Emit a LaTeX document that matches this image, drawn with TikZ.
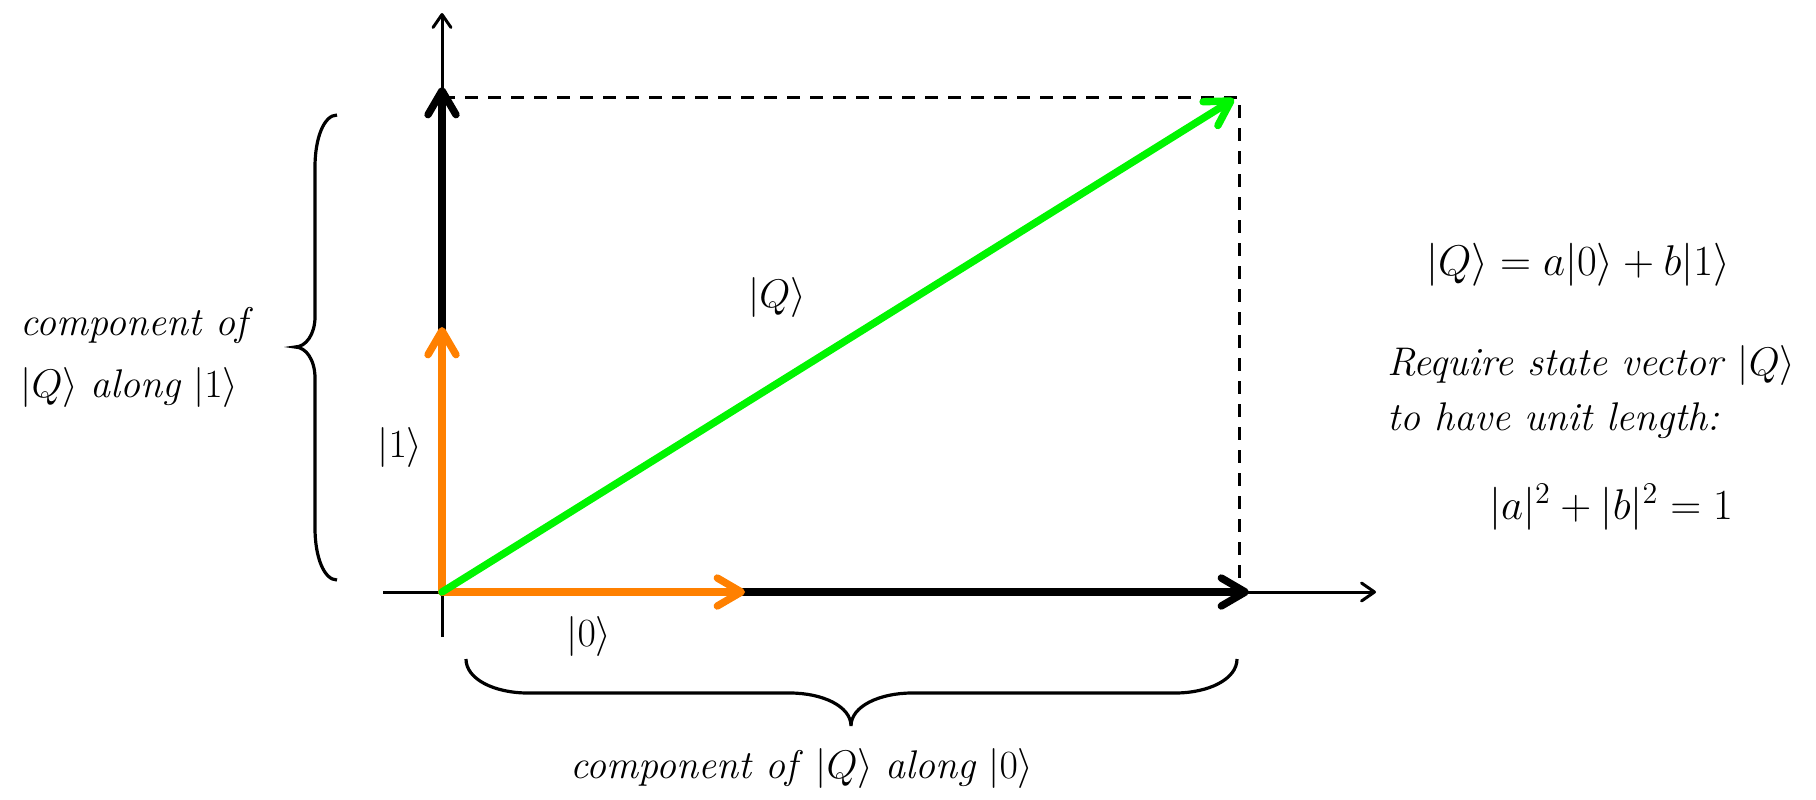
\RequirePackage{fix-cm}
\documentclass[tikz,border=0pt]{standalone}
\usetikzlibrary{arrows.meta}
\definecolor{vecgreen}{RGB}{0,245,0}
\definecolor{vecorange}{RGB}{255,128,0}
\begin{document}
\begin{tikzpicture}[x=0.5pt,y=-0.5pt,
  axisline/.style={line width=1.5pt,-{Straight Barb[length=6.5pt,width=9pt,round]}},
  vecline/.style={line width=3.7pt,line cap=round,-{Straight Barb[length=12pt,width=14pt,round]}},
  guide/.style={line width=1.5pt,dash pattern=on 6.5pt off 5pt},
  bracestroke/.style={line width=1.6pt},
  lbl/.style={inner sep=0pt,font=\fontsize{20}{24}\selectfont},
  eqlbl/.style={inner sep=0pt,font=\fontsize{21.5}{26}\selectfont}]
\useasboundingbox (0,0) rectangle (1816,799);
% coordinates
\coordinate (O) at (442,592);
\coordinate (xstart) at (383,592);
\coordinate (xend) at (1376,592);
\coordinate (ystart) at (442,637);
\coordinate (yend) at (442,13);
\coordinate (e0) at (1249,592);
\coordinate (e1) at (442,87);
\coordinate (o0) at (745,592);
\coordinate (o1) at (442,327);
\coordinate (Qtip) at (1234,99);
\coordinate (dtop) at (442,97);
\coordinate (dcorner) at (1239,97);
\coordinate (dbot) at (1239,586);
% axes
\draw[axisline] (xstart) -- (xend);
\draw[axisline] (ystart) -- (yend);
% dashed guides
\draw[guide] (dtop) -- (dcorner) -- (dbot);
% basis vectors scaled
\draw[vecline] (O) -- (e0);
\draw[vecline] (O) -- (e1);
% unit basis vectors
\draw[vecline,vecorange] (O) -- (o0);
\draw[vecline,vecorange] (O) -- (o1);
% state vector
\draw[vecline,vecgreen] (O) -- (Qtip);
% left brace
\draw[bracestroke] (337,115) .. controls (324,115) and (315,138) .. (315,167)
  -- (315,317) .. controls (315,334) and (306,347) .. (295,347)
  .. controls (306,347) and (315,360) .. (315,378)
  -- (315,528) .. controls (315,557) and (324,580) .. (337,580);
% bottom brace
\draw[bracestroke] (466,659) .. controls (466,679) and (494,693) .. (528,693)
  -- (790,693) .. controls (822,693) and (851,706) .. (851,726)
  .. controls (851,706) and (880,693) .. (912,693)
  -- (1175,693) .. controls (1209,693) and (1237,679) .. (1237,659);
% labels
\node[lbl] (qlab) at (777,297) {$|Q\rangle$};
\node[lbl] (ket1) at (400,447) {$|1\rangle$};
\node[lbl] (ket0) at (589,636) {$|0\rangle$};
\node[lbl,anchor=base west] (left1) at (20,335) {\textit{component of}};
\node[lbl,anchor=base west] (left2) at (20,397) {$|Q\rangle$ \textit{along} $|1\rangle$};
\node[lbl,anchor=base] (bottom) at (802,778) {\textit{component of} $|Q\rangle$ \textit{along} $|0\rangle$};
\node[eqlbl] (eq) at (1578,265) {$|Q\rangle = a|0\rangle + b|1\rangle$};
\node[lbl,anchor=base west] (req1) at (1387,375) {\textit{Require state vector} $|Q\rangle$};
\node[lbl,anchor=base west] (req2) at (1387,430) {\textit{to have unit length:}};
\node[eqlbl] (norm) at (1611,507) {$|a|^2+|b|^2=1$};
\end{tikzpicture}
\end{document}
